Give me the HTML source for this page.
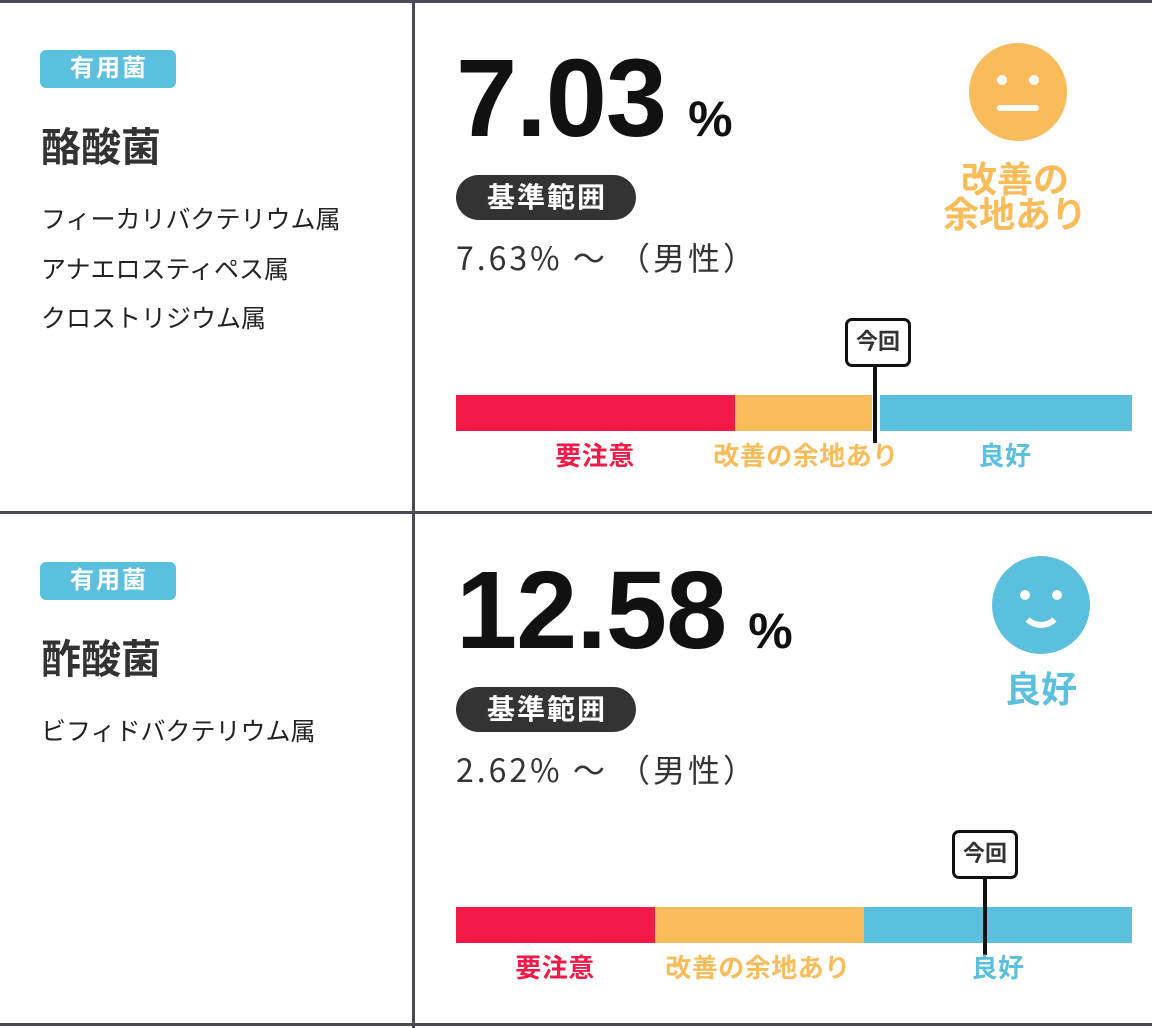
<!DOCTYPE html>
<html><head><meta charset="utf-8"><style>
*{margin:0;padding:0;box-sizing:border-box}
body{width:1152px;height:1028px;background:#fff;position:relative;overflow:hidden;font-family:"Liberation Sans","Noto Sans CJK JP",sans-serif;color:#333}
.a{position:absolute;white-space:nowrap}
.hl{position:absolute;left:0;width:1152px;height:3px;background:#4a4b57}
.vl{position:absolute;left:412px;width:3px;background:#4a4b57}
.tag{position:absolute;left:40px;width:136px;height:38px;background:#5bc0de;border-radius:6px;color:#fff;font-weight:bold;font-size:24px;text-align:center;line-height:38px;letter-spacing:2px;text-indent:2px}
.title{position:absolute;left:41px;font-size:40px;font-weight:bold;line-height:42px}
.gen{position:absolute;left:41px;font-size:25px;line-height:28px;color:#222}
.num{position:absolute;left:456px;font-size:110px;font-weight:bold;color:#111;line-height:110px;letter-spacing:-1px}
.num span{font-size:50px;margin-left:22px}
.pill{position:absolute;left:456px;width:180px;height:45px;background:#333;color:#fff;border-radius:23px;font-weight:bold;font-size:28px;text-align:center;line-height:45px;letter-spacing:2px;text-indent:2px}
.rng{position:absolute;left:456px;font-size:32px;line-height:36px;color:#333;font-family:"Noto Sans CJK JP","Liberation Sans",sans-serif;letter-spacing:3px}
.face{position:absolute;width:98px;height:98px;border-radius:50%}
.bar{position:absolute;height:36px}
.lbl{position:absolute;font-size:26px;font-weight:bold;line-height:28px;transform:translateX(-50%);white-space:nowrap;letter-spacing:0.5px}
.mk{position:absolute;width:66px;height:49px;border:3px solid #111;border-radius:7px;background:#fff;font-size:22px;font-weight:bold;text-align:center;line-height:42px;color:#333}
.ml{position:absolute;width:4px;background:#111}
.ft{position:absolute;width:200px;text-align:center;font-size:36px;font-weight:bold}
</style></head><body>
<div class="hl" style="top:0"></div>
<div class="hl" style="top:511px"></div>
<div class="hl" style="top:1023px"></div>
<div class="vl" style="top:0;height:1028px"></div>

<!-- Row 1 -->
<div class="tag" style="top:50px">有用菌</div>
<div class="title" style="top:127px">酪酸菌</div>
<div class="gen" style="top:206px">フィーカリバクテリウム属</div>
<div class="gen" style="top:256px">アナエロスティペス属</div>
<div class="gen" style="top:305px">クロストリジウム属</div>

<div class="num" style="top:44px">7.03<span>%</span></div>
<div class="pill" style="top:175px">基準範囲</div>
<div class="rng" style="top:239px">7.63% 〜 （男性）</div>
<div class="face" style="left:969px;top:43px;background:#f9bc5a">
<div class="a" style="left:28px;top:32px;width:10px;height:10px;border-radius:50%;background:#fff"></div>
<div class="a" style="left:60px;top:32px;width:10px;height:10px;border-radius:50%;background:#fff"></div>
<div class="a" style="left:28px;top:62px;width:42px;height:6px;border-radius:3px;background:#fff"></div>
</div>
<div class="ft" style="left:915px;top:162px;color:#f9bc5a;line-height:35px">改善の<br>余地あり</div>

<div class="bar" style="left:456px;top:395px;width:279px;background:#f31a47"></div>
<div class="bar" style="left:735px;top:395px;width:137px;background:#f9bc5a"></div>
<div class="bar" style="left:880px;top:395px;width:252px;background:#5bc0de"></div>
<div class="ml" style="left:873px;top:366px;height:77px"></div>
<div class="mk" style="left:845px;top:318px">今回</div>
<div class="lbl" style="left:595px;top:442px;color:#f31a47">要注意</div>
<div class="lbl" style="left:806px;top:442px;color:#f9bc5a">改善の余地あり</div>
<div class="lbl" style="left:1005px;top:442px;color:#5bc0de">良好</div>

<!-- Row 2 -->
<div class="tag" style="top:562px">有用菌</div>
<div class="title" style="top:639px">酢酸菌</div>
<div class="gen" style="top:718px">ビフィドバクテリウム属</div>

<div class="num" style="top:556px">12.58<span>%</span></div>
<div class="pill" style="top:687px">基準範囲</div>
<div class="rng" style="top:751px">2.62% 〜 （男性）</div>
<div class="face" style="left:992px;top:556px;background:#5bc0de">
<div class="a" style="left:28px;top:34px;width:10px;height:10px;border-radius:50%;background:#fff"></div>
<div class="a" style="left:60px;top:34px;width:10px;height:10px;border-radius:50%;background:#fff"></div>
<div class="a" style="left:27px;top:44px;width:44px;height:28px;border:6px solid #fff;border-top:none;border-left-color:transparent;border-right-color:transparent;border-radius:0 0 24px 24px"></div>
</div>
<div class="ft" style="left:941px;top:672px;color:#5bc0de;line-height:36px">良好</div>

<div class="bar" style="left:456px;top:907px;width:199px;background:#f31a47"></div>
<div class="bar" style="left:655px;top:907px;width:209px;background:#f9bc5a"></div>
<div class="bar" style="left:864px;top:907px;width:268px;background:#5bc0de"></div>
<div class="ml" style="left:983px;top:878px;height:77px"></div>
<div class="mk" style="left:952px;top:830px">今回</div>
<div class="lbl" style="left:555px;top:954px;color:#f31a47">要注意</div>
<div class="lbl" style="left:758px;top:954px;color:#f9bc5a">改善の余地あり</div>
<div class="lbl" style="left:998px;top:954px;color:#5bc0de">良好</div>
</body></html>
